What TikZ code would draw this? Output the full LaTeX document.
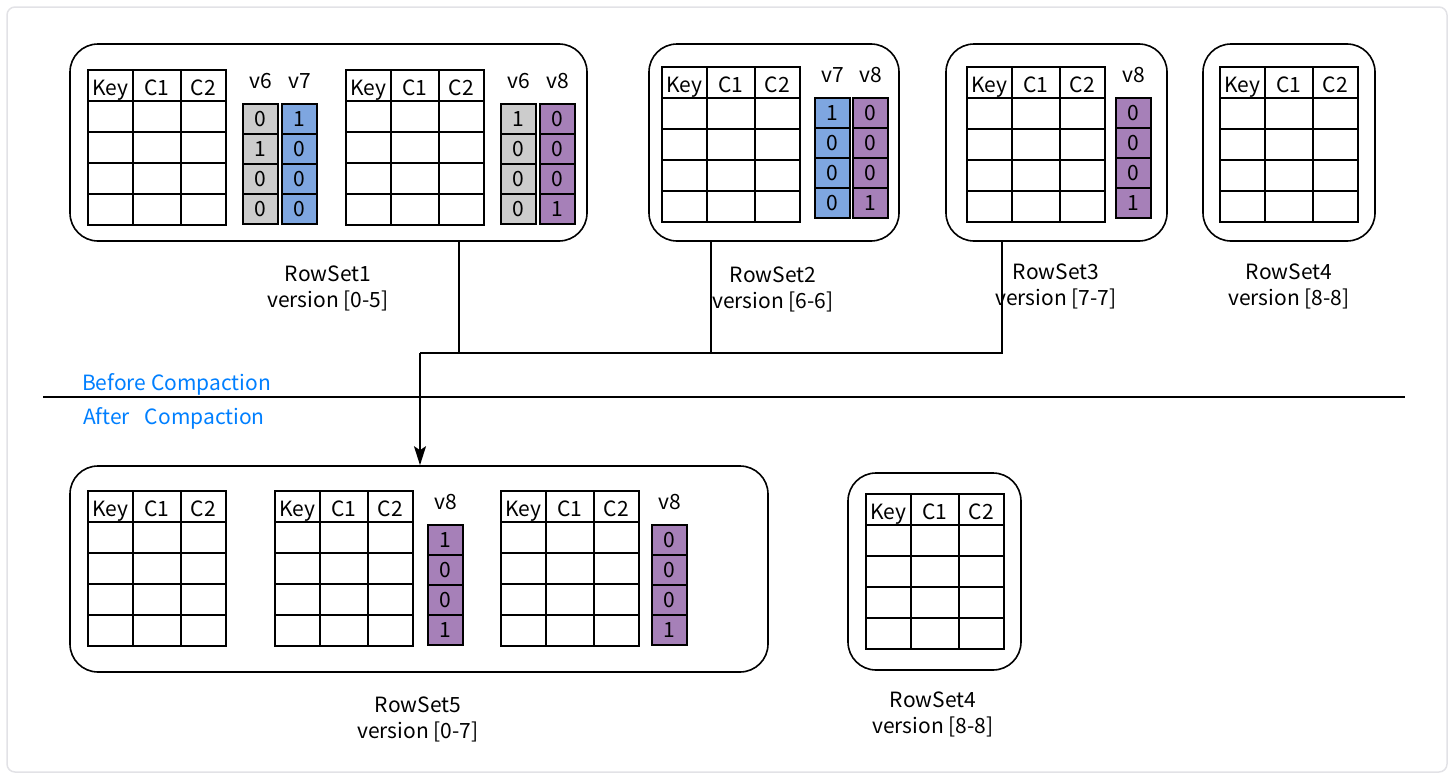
\documentclass[tikz,border=0pt]{standalone}
\usepackage{fontspec}
\setmainfont{Noto Sans CJK SC}
\usetikzlibrary{arrows.meta}
\definecolor{gcell}{HTML}{CCCCCC}
\definecolor{bcell}{HTML}{7EA6E0}
\definecolor{pcell}{HTML}{A680B8}
\definecolor{btext}{HTML}{007FFF}
\definecolor{frame}{HTML}{E2E2E6}
\tikzset{
  tline/.style={line width=1.6, black},
  txt/.style={inner sep=0, font=\fontsize{21}{26}\selectfont},
  bitcell/.style={draw, line width=1.5, minimum width=35, minimum height=30, inner sep=0, font=\fontsize{21}{26}\selectfont},
  rsbox/.style={draw, line width=1.6, rounded corners=28, inner sep=0},
  conn/.style={line width=1.3},
  trunk/.style={line width=2},
}
% table: name, x, y (top-left)
\newcommand\kvtab[3]{%
  \draw[tline] (#2,#3) rectangle ++(138,155);
  \foreach \dy in {31,62,93,124} \draw[tline] (#2,#3+\dy) -- ++(138,0);
  \draw[tline] (#2+45,#3) -- ++(0,155);
  \draw[tline] (#2+93,#3) -- ++(0,155);
  \node[txt, anchor=base] (#1-key) at (#2+22.5,#3+25) {Key};
  \node[txt, anchor=base] (#1-c1) at (#2+69,#3+25) {C1};
  \node[txt, anchor=base] (#1-c2) at (#2+115.5,#3+25) {C2};
}
% bit column: name, x, y (top-left), colour, label, four values
\newcommand\bitcol[9]{%
  \node[txt, anchor=base] (#1-l) at (#2+17.5,#3-16) {#5};
  \node[bitcell, fill=#4] (#1-a) at (#2+17.5,#3+15) {#6};
  \node[bitcell, fill=#4] (#1-b) at (#2+17.5,#3+45) {#7};
  \node[bitcell, fill=#4] (#1-c) at (#2+17.5,#3+75) {#8};
  \node[bitcell, fill=#4] (#1-d) at (#2+17.5,#3+105) {#9};
}
\begin{document}
\begin{tikzpicture}[x=1pt,y=-1pt]
\useasboundingbox (0,0) rectangle (1454,779);
\draw[frame, line width=1.5, rounded corners=8] (7,7) rectangle (1447,772);

% ---- before compaction ----
\node[rsbox, minimum width=517, minimum height=197] (rs1) at (328.5,142.5) {};
\node[rsbox, minimum width=250, minimum height=197] (rs2) at (774,142.5) {};
\node[rsbox, minimum width=221, minimum height=197] (rs3) at (1056.5,142.5) {};
\node[rsbox, minimum width=172, minimum height=197] (rs4) at (1289,142.5) {};

\kvtab{t1}{88}{70}
\bitcol{b1}{243}{104}{gcell}{v6}{0}{1}{0}{0}
\bitcol{b2}{282}{104}{bcell}{v7}{1}{0}{0}{0}
\kvtab{t2}{346}{70}
\bitcol{b3}{501}{104}{gcell}{v6}{1}{0}{0}{0}
\bitcol{b4}{540}{104}{pcell}{v8}{0}{0}{0}{1}

\kvtab{t3}{662}{67}
\bitcol{b5}{815}{98}{bcell}{v7}{1}{0}{0}{0}
\bitcol{b6}{853}{98}{pcell}{v8}{0}{0}{0}{1}

\kvtab{t4}{967}{67}
\bitcol{b7}{1116}{98}{pcell}{v8}{0}{0}{0}{1}

\kvtab{t5}{1220}{67}

\node[txt, align=center] (l1) at (328,288) {RowSet1\\version [0-5]};
\node[txt, align=center] (l2) at (773,289) {RowSet2\\version [6-6]};
\node[txt, align=center] (l3) at (1056,286) {RowSet3\\version [7-7]};
\node[txt, align=center] (l4) at (1289,286) {RowSet4\\version [8-8]};

% ---- separator ----
\coordinate (sepL) at (43,397);
\coordinate (sepR) at (1405,397);
\draw[line width=1.5] (sepL) -- (sepR);
\node[txt, anchor=west, text=btext] (before) at (82,384) {Before Compaction};
\node[txt, anchor=west, text=btext] (after) at (83,418) {After\hspace{15pt}Compaction};

% ---- after compaction ----
\node[rsbox, minimum width=698, minimum height=206] (rs5) at (419,569) {};
\node[rsbox, minimum width=173, minimum height=197] (rs6) at (934.5,571.5) {};

\kvtab{t6}{88}{491}
\kvtab{t7}{275}{491}
\bitcol{b8}{428}{525}{pcell}{v8}{1}{0}{0}{1}
\kvtab{t8}{501}{491}
\bitcol{b9}{652}{525}{pcell}{v8}{0}{0}{0}{1}
\kvtab{t9}{866}{494}

\node[txt, align=center] (l5) at (418,719) {RowSet5\\version [0-7]};
\node[txt, align=center] (l6) at (933,714) {RowSet4\\version [8-8]};

% ---- connectors ----
\coordinate (j) at (420,353);
\coordinate (c1) at (459,353);
\coordinate (c2) at (711,353);
\coordinate (c3) at (1002,353);
\draw[conn] (c1 |- rs1.south) -- (c1);
\draw[conn] (c2 |- rs2.south) -- (c2);
\draw[conn] (c3 |- rs3.south) -- (c3) -- (c2);
\draw[trunk] (c2) -- (j);
\draw[trunk, -{Stealth[length=19pt,width=12pt,inset=4pt]}] (j) -- (j |- rs5.north);
\end{tikzpicture}
\end{document}
